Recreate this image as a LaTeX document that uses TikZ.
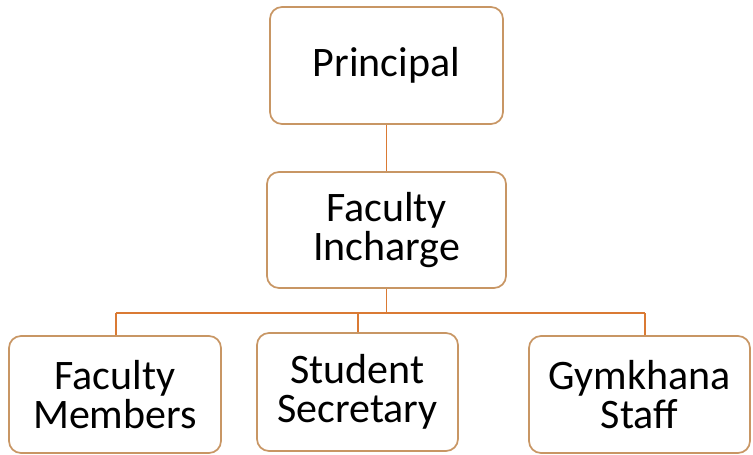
\documentclass[tikz,border=0pt]{standalone}
\usepackage{fontspec}
\setmainfont{Carlito}
\definecolor{boxline}{RGB}{200,150,100}
\definecolor{linkline}{RGB}{218,122,52}
\tikzset{
	orgbox/.style={draw=boxline, line width=0.6mm, rounded corners=12pt, fill=white, align=center, inner sep=0pt, font=\fontsize{42}{39}\selectfont},
	orglink/.style={draw=linkline, line width=0.7mm}
}

\begin{document}
\begin{tikzpicture}[x=1pt, y=-1pt]
		%%%%% START %%%%%
		\useasboundingbox (0, 0) rectangle (753, 455);
		
		\node[orgbox, minimum width=233pt, minimum height=117pt] (principal) at (386.5, 65.5) {Principal};
		\node[orgbox, minimum width=239pt, minimum height=116pt] (incharge) at (386.5, 230) {Faculty\\Incharge};
		
		\node[orgbox, minimum width=212pt, minimum height=117pt] (members) at (115, 394.5) {Faculty\\Members};
		\node[orgbox, minimum width=201pt, minimum height=118pt] (secretary) at (357.5, 392) {Student\\Secretary};
		\node[orgbox, minimum width=221pt, minimum height=117pt] (gymkhana) at (639.5, 394.5) {Gymkhana\\Staff};
		
		\coordinate (busL) at (116, 313);
		\coordinate (busM) at (358, 313);
		\coordinate (busC) at (386.5, 313);
		\coordinate (busR) at (645, 313);
		
		\draw[orglink] (principal) -- (incharge);
		\draw[orglink] (incharge) -- (busC);
		\draw[orglink] (busL) -- (busR);
		\draw[orglink] (busL) -- (busL |- members.north);
		\draw[orglink] (busM) -- (busM |- secretary.north);
		\draw[orglink] (busR) -- (busR |- gymkhana.north);
		
		%%%%% END %%%%%
	\end{tikzpicture}
\end{document}
